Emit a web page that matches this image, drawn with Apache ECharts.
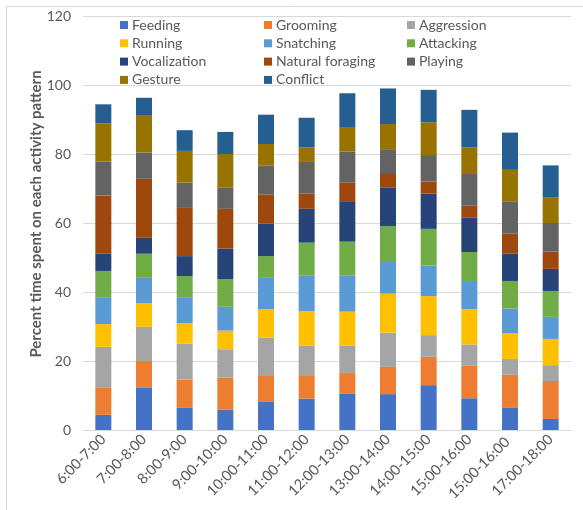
<!DOCTYPE html>
<html>
<head>
<meta charset="utf-8">
<script src="https://cdn.jsdelivr.net/npm/echarts@6/dist/echarts.min.js"></script>
<style>
  html, body { margin: 0; padding: 0; background: #fff; }
  #chart { width: 583px; height: 510px; }
</style>
</head>
<body>
<div id="chart"></div>
<script>
// Hourly time slots
const timeSlots = ['6:00-7:00', '7:00-8:00', '8:00-9:00', '9:00-10:00', '10:00-11:00', '11:00-12:00',
  '12:00-13:00', '13:00-14:00', '14:00-15:00', '15:00-16:00', '15:00-16:00 ', '17:00-18:00'];

// Percent of time spent on each activity, per time slot
const feeding         = [4.4, 12.2, 6.4, 5.9, 8.3, 9.1, 10.6, 10.4, 13.0, 9.2, 6.4, 3.2];
const grooming        = [7.8, 7.8, 8.2, 9.3, 7.6, 6.8, 5.9, 7.9, 8.2, 9.4, 9.6, 11.0];
const aggression      = [11.9, 9.9, 10.4, 8.2, 10.9, 8.6, 8.0, 9.9, 6.3, 6.2, 4.6, 4.6];
const running         = [6.6, 6.8, 6.0, 5.4, 8.2, 10.0, 9.8, 11.3, 11.3, 10.2, 7.4, 7.6];
const snatching       = [7.8, 7.4, 7.3, 6.9, 9.3, 10.2, 10.4, 9.2, 8.9, 8.2, 7.2, 6.4];
const attacking       = [7.6, 7.0, 6.3, 8.0, 6.1, 9.6, 9.9, 10.4, 10.6, 8.4, 8.0, 7.5];
const vocalization    = [5.0, 4.6, 5.8, 8.9, 9.4, 9.8, 11.5, 11.1, 10.2, 9.9, 7.9, 6.4];
const naturalForaging = [16.9, 17.1, 14.2, 11.5, 8.4, 4.4, 5.7, 4.0, 3.5, 3.5, 5.8, 5.0];
const playing         = [9.8, 7.6, 7.1, 6.1, 8.5, 9.2, 8.9, 7.2, 7.7, 9.2, 9.4, 8.3];
const gesture         = [11.1, 10.9, 9.2, 9.8, 6.2, 4.2, 6.9, 7.3, 9.5, 7.7, 9.1, 7.5];
const conflict        = [5.5, 5.0, 6.0, 6.4, 8.5, 8.6, 10.0, 10.3, 9.4, 10.9, 10.8, 9.2];

const yTicks = [0, 20, 40, 60, 80, 100, 120];

const activities = [
  { name: 'Feeding', data: feeding, color: '#4472C4' },
  { name: 'Grooming', data: grooming, color: '#ED7D31' },
  { name: 'Aggression', data: aggression, color: '#A5A5A5' },
  { name: 'Running', data: running, color: '#FFC000' },
  { name: 'Snatching', data: snatching, color: '#5B9BD5' },
  { name: 'Attacking', data: attacking, color: '#70AD47' },
  { name: 'Vocalization', data: vocalization, color: '#264478' },
  { name: 'Natural foraging', data: naturalForaging, color: '#9E480E' },
  { name: 'Playing', data: playing, color: '#636363' },
  { name: 'Gesture', data: gesture, color: '#997300' },
  { name: 'Conflict', data: conflict, color: '#255E91' }
];

const FONT = 'Lato, "Open Sans", sans-serif';
const GREY = '#595959';

// legend laid out in three columns, filled row by row
function legendColumn(col, left) {
  return {
    orient: 'vertical',
    left: left,
    top: 12,
    itemWidth: 8,
    itemHeight: 8,
    itemGap: 2.3,
    icon: 'rect',
    selectedMode: false,
    textStyle: { fontFamily: FONT, fontSize: 14, color: GREY, lineHeight: 16, padding: [0, 0, 0, -1] },
    data: activities.filter((a, i) => i % 3 === col).map(a => a.name)
  };
}

const chart = echarts.init(document.getElementById('chart'));
chart.setOption({
  animation: false,
  backgroundColor: '#fff',
  graphic: [
    { type: 'line', shape: { x1: 6, y1: 6.5, x2: 583, y2: 6.5 }, style: { stroke: '#d9d9d9', lineWidth: 1 } },
    { type: 'line', shape: { x1: 6.5, y1: 6, x2: 6.5, y2: 510 }, style: { stroke: '#d9d9d9', lineWidth: 1 } }
  ],
  legend: [legendColumn(0, 115), legendColumn(1, 259), legendColumn(2, 402)],
  grid: { left: 83, right: 12, top: 16, bottom: 80 },
  xAxis: {
    type: 'category',
    data: timeSlots,
    axisLine: { lineStyle: { color: '#d9d9d9' } },
    axisTick: { show: false },
    axisLabel: { rotate: 45, fontFamily: FONT, fontSize: 14.5, color: GREY, margin: 7, interval: 0 }
  },
  yAxis: {
    type: 'value',
    min: 0,
    max: yTicks[yTicks.length - 1],
    interval: yTicks[1] - yTicks[0],
    name: 'Percent time spent on each activity pattern',
    nameLocation: 'middle',
    nameGap: 39,
    nameMoveOverlap: false,
    nameTextStyle: { fontFamily: FONT, fontSize: 15, fontWeight: 'bold', color: GREY, padding: [0, 0, 0, 18] },
    axisLine: { show: false },
    axisTick: { show: false },
    axisLabel: { fontFamily: FONT, fontSize: 14, color: GREY, margin: 12 },
    splitLine: { lineStyle: { color: '#d9d9d9' } }
  },
  series: activities.map(a => ({
    name: a.name,
    type: 'bar',
    stack: 'total',
    barWidth: 16,
    data: a.data,
    itemStyle: { color: a.color }
  }))
});
</script>
</body>
</html>
